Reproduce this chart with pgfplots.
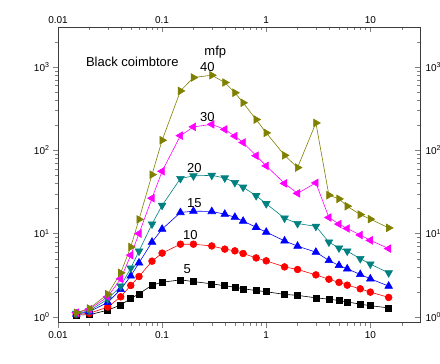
\documentclass[border=0pt]{standalone}
\usepackage{fontspec}
\setmainfont{Liberation Sans}
\usepackage{pgfplots}
\usepackage{pgfplotstable}
\pgfplotsset{compat=1.18}

\pgfplotstableread{
E      m5    m10   m15   m20   m30   m40
0.015  1.05  1.07  1.08  1.10  1.12  1.12
0.02   1.06  1.10  1.15  1.18  1.23  1.26
0.03   1.20  1.31  1.49  1.63  1.74  1.87
0.04   1.39  1.74  2.13  2.34  2.86  3.37
0.05   1.66  2.38  3.10  3.84  5.5   6.9
0.06   1.89  3.05  4.45  6.15  10.0  14.8
0.08   2.40  4.66  7.90  13.0  26.6  51
0.1    2.60  5.82  11.3  21.8  56    132
0.15   2.78  7.45  17.9  45.8  150   516
0.2    2.65  7.45  18.6  49.3  191   748
0.3    2.49  7.10  18.4  50.0  205   797
0.4    2.36  6.50  17.1  46.5  178   652
0.5    2.27  6.20  15.7  41.0  148   491
0.6    2.17  5.76  14.1  36.0  124   372
0.8    2.07  5.10  11.9  28.5  86    234
1      2.00  4.70  10.4  22.8  65    162
1.5    1.86  3.98  8.17  15.3  40    87
2      1.81  3.70  7.06  13.2  30.4  62
3      1.69  3.19  5.98  12.2  40.6  213
4      1.63  2.83  4.75  7.9   15.6  28.9
5      1.57  2.59  4.14  6.7   13.0  26.1
6      1.51  2.40  3.77  6.15  11.5  21.3
8      1.42  2.17  3.23  5.0   9.6   16.9
10     1.36  1.98  2.86  4.3   8.3   14.9
15     1.28  1.71  2.34  3.37  6.6   11.7
}\datatable

\definecolor{oliveC}{RGB}{128,128,0}
\definecolor{tealC}{RGB}{0,128,128}
\definecolor{magC}{RGB}{255,0,255}
\definecolor{redC}{RGB}{255,0,0}
\definecolor{blueC}{RGB}{0,0,255}
\definecolor{axgray}{RGB}{60,60,60}

\begin{document}
\begin{tikzpicture}
\begin{axis}[scale only axis, width=362bp, height=295.4bp,
    xmode=log, ymode=log,
    xmin=0.01, xmax=30, ymin=0.85, ymax=3000,
    xtick={0.01,0.1,1,10}, xticklabels={0.01,0.1,1,10},
    minor xtick={0.02,0.03,0.04,0.05,0.06,0.07,0.08,0.09,0.2,0.3,0.4,0.5,0.6,0.7,0.8,0.9,2,3,4,5,6,7,8,9,20},
    ytick={1,10,100,1000},
    yticklabels={10\textsuperscript{0},10\textsuperscript{1},10\textsuperscript{2},10\textsuperscript{3}},
    minor ytick={2,3,4,5,6,7,8,9,20,30,40,50,60,70,80,90,200,300,400,500,600,700,800,900,2000},
    tick label style={font=\fontsize{10bp}{12bp}\selectfont},
    major tick length=5bp, minor tick length=3bp,
    axis line style={line width=0.8bp, draw=axgray},
    xtick pos=bottom, ytick pos=left, tick align=outside]
  \addplot[black, line width=0.6bp, mark=square*, mark size=3bp] table[x=E,y=m5] {\datatable};
  \addplot[redC, line width=0.6bp, mark=*, mark size=3.4bp] table[x=E,y=m10] {\datatable};
  \addplot[blueC, line width=0.6bp, mark=triangle*, mark size=4.4bp] table[x=E,y=m15] {\datatable};
  \addplot[tealC, line width=0.6bp, mark=triangle*, mark size=4.4bp, mark options={rotate=180}] table[x=E,y=m20] {\datatable};
  \addplot[magC, line width=0.6bp, mark=triangle*, mark size=4.4bp, mark options={rotate=90}] table[x=E,y=m30] {\datatable};
  \addplot[oliveC, line width=0.6bp, mark=triangle*, mark size=4.4bp, mark options={rotate=-90}] table[x=E,y=m40] {\datatable};
  \node[font=\fontsize{13bp}{15bp}\selectfont, anchor=west] at (axis cs:0.0172,1140) {Black coimbtore};
  \node[font=\fontsize{13bp}{15bp}\selectfont] at (axis cs:0.324,1506) {mfp};
  \node[font=\fontsize{13bp}{15bp}\selectfont] at (axis cs:0.272,995) {40};
  \node[font=\fontsize{13bp}{15bp}\selectfont] at (axis cs:0.272,250) {30};
  \node[font=\fontsize{13bp}{15bp}\selectfont] at (axis cs:0.204,61) {20};
  \node[font=\fontsize{13bp}{15bp}\selectfont] at (axis cs:0.204,23) {15};
  \node[font=\fontsize{13bp}{15bp}\selectfont] at (axis cs:0.187,9.6) {10};
  \node[font=\fontsize{13bp}{15bp}\selectfont] at (axis cs:0.174,3.7) {5};
  \node[font=\fontsize{13bp}{15bp}\selectfont, rotate=90] at (axis description cs:-0.105,0.47) {Exposure build-up factor};
  \node[font=\fontsize{13bp}{15bp}\selectfont] at (axis description cs:0.503,-0.099) {----Energy(MeV)-----};
\end{axis}
\begin{axis}[scale only axis, width=362bp, height=295.4bp,
    xmode=log, ymode=log,
    xmin=0.01, xmax=30, ymin=0.85, ymax=3000,
    xtick={0.01,0.1,1,10}, xticklabels={0.01,0.1,1,10},
    minor xtick={0.02,0.03,0.04,0.05,0.06,0.07,0.08,0.09,0.2,0.3,0.4,0.5,0.6,0.7,0.8,0.9,2,3,4,5,6,7,8,9,20},
    ytick={1,10,100,1000},
    yticklabels={10\textsuperscript{0},10\textsuperscript{1},10\textsuperscript{2},10\textsuperscript{3}},
    minor ytick={2,3,4,5,6,7,8,9,20,30,40,50,60,70,80,90,200,300,400,500,600,700,800,900,2000},
    tick label style={font=\fontsize{10bp}{12bp}\selectfont},
    major tick length=5bp, minor tick length=3bp,
    axis line style={line width=0.8bp, draw=axgray},
    xtick pos=top, ytick pos=right, tick align=inside,
    xticklabel pos=upper, yticklabel pos=upper,
    yticklabel style={xshift=2bp}]
  \addplot[draw=none] coordinates {(1,1)};
\end{axis}
\pgfresetboundingbox
\path[use as bounding box] (-58bp,-41.3bp) rectangle (382bp,322.7bp);
\end{tikzpicture}
\end{document}
